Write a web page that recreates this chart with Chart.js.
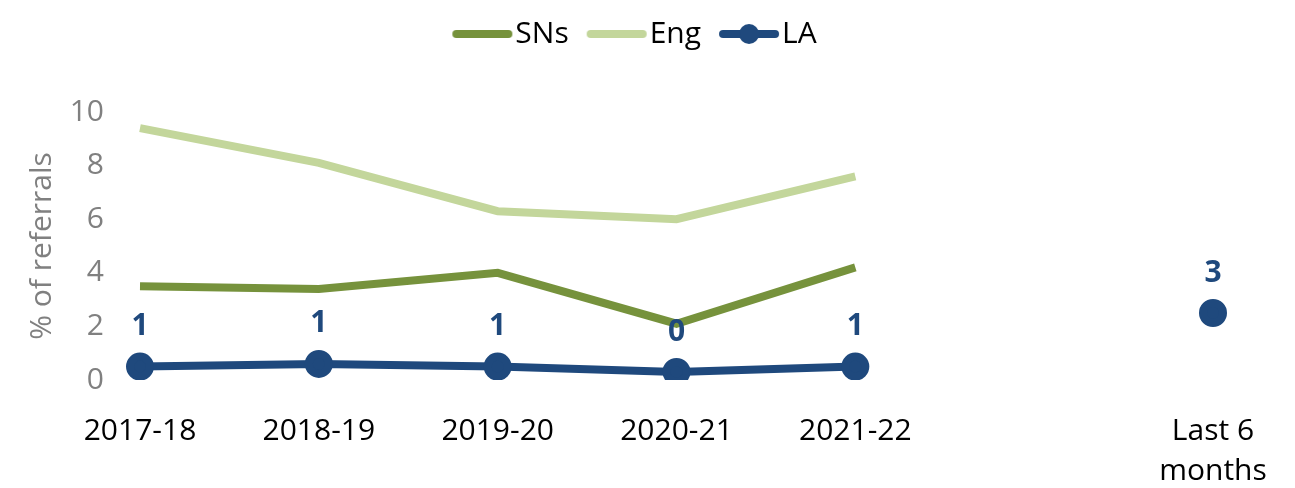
<!DOCTYPE html>
<html>
<head>
<meta charset="utf-8">
<script src="https://cdn.jsdelivr.net/npm/chart.js@4"></script>
<style>
  html, body { margin: 0; padding: 0; background: #fff; }
  #wrap { width: 1295px; height: 488px; }
</style>
</head>
<body>
<div id="wrap"><canvas id="referralChart"></canvas></div>
<script>
// Categories (one blank slot before the last 6 months)
const labels = ['2017-18', '2018-19', '2019-20', '2020-21', '2021-22', '', ['Last 6', 'months']];
const snsValues = [3.5, 3.4, 4.0, 2.1, 4.2, null, null];
const engValues = [9.4, 8.1, 6.3, 6.0, 7.6, null, null];
const laValues = [0.5, 0.6, 0.5, 0.3, 0.5, null, 2.5];
const laLabels = ['1', '1', '1', '0', '1', '', '3'];
const yTicks = [0, 2, 4, 6, 8, 10];

const fontFamily = '"Open Sans", "Noto Sans", sans-serif';

// legend marker: thick line (optional dot), sitting close to its text
function legendIcon(color, withDot) {
  const c = document.createElement('canvas');
  c.width = 84; c.height = 24;
  const g = c.getContext('2d');
  g.strokeStyle = color;
  g.lineWidth = 8;
  g.lineCap = 'round';
  g.beginPath();
  g.moveTo(26, 12); g.lineTo(78, 12);
  g.stroke();
  if (withDot) {
    g.fillStyle = color;
    g.beginPath();
    g.arc(52, 12, 10, 0, Math.PI * 2);
    g.fill();
  }
  return c;
}

const valueLabels = {
  id: 'valueLabels',
  afterDatasetsDraw(chart) {
    const meta = chart.getDatasetMeta(2);
    const ctx = chart.ctx;
    ctx.save();
    ctx.font = 'bold 30px ' + fontFamily;
    ctx.fillStyle = '#1F497D';
    ctx.textAlign = 'center';
    ctx.textBaseline = 'middle';
    meta.data.forEach((pt, i) => {
      if (laValues[i] === null) return;
      ctx.fillText(laLabels[i], pt.x, pt.y - 40);
    });
    ctx.restore();
  }
};

// leave room under the legend and nudge it right
const legendGap = {
  id: 'legendGap',
  beforeLayout(chart) {
    const lg = chart.legend;
    if (lg && !lg._gapPatched) {
      const fit = lg.fit;
      lg.fit = function () { fit.call(this); this.height += 55; };
      lg._gapPatched = true;
    }
  },
  afterLayout(chart) {
    const lg = chart.legend;
    if (lg) { lg.left += 24; lg.right += 24; lg.top += 2; lg.bottom += 2; }
  }
};

const ctx = document.getElementById('referralChart').getContext('2d');
const chart = new Chart(ctx, {
    type: 'line',
    data: {
        labels: labels,
        datasets: [{
            label: 'SNs',
            data: snsValues,
            borderColor: '#76923C',
            backgroundColor: '#76923C',
            borderWidth: 8,
            pointRadius: 0,
            pointHoverRadius: 0,
            tension: 0
        }, {
            label: 'Eng',
            data: engValues,
            borderColor: '#C3D69B',
            backgroundColor: '#C3D69B',
            borderWidth: 8,
            pointRadius: 0,
            pointHoverRadius: 0,
            tension: 0
        }, {
            label: 'LA',
            data: laValues,
            borderColor: '#1F497D',
            backgroundColor: '#1F497D',
            borderWidth: 8,
            pointRadius: 10,
            pointHoverRadius: 10,
            tension: 0
        }]
    },
    options: {
        responsive: true,
        maintainAspectRatio: false,
        animation: false,
        layout: { padding: { left: 0, right: 82, top: 7, bottom: 0 } },
        plugins: {
            legend: {
                position: 'top',
                labels: {
                    usePointStyle: true,
                    pointStyleWidth: 56,
                    color: '#000',
                    font: { family: fontFamily, size: 30 },
                    padding: 10,
                    generateLabels(chart) {
                        return chart.data.datasets.map((ds, i) => ({
                            text: ds.label,
                            datasetIndex: i,
                            fontColor: '#000',
                            pointStyle: legendIcon(ds.borderColor, i === 2),
                            strokeStyle: ds.borderColor,
                            fillStyle: ds.borderColor,
                            lineWidth: 0,
                            hidden: false
                        }));
                    }
                }
            },
            tooltip: { enabled: false }
        },
        scales: {
            x: {
                offset: false,
                grid: { display: false },
                border: { display: false },
                afterFit(axis) {
                    axis.height = 108;
                },
                ticks: {
                    color: '#000',
                    font: { family: fontFamily, size: 30, lineHeight: 1.33 },
                    maxRotation: 0,
                    autoSkip: false,
                    padding: 24
                }
            },
            y: {
                min: 0,
                max: 10,
                grid: { display: false },
                border: { display: false },
                afterBuildTicks(axis) {
                    axis.ticks = yTicks.map(v => ({ value: v }));
                },
                afterFit(axis) {
                    axis.width = 140;
                },
                ticks: {
                    color: '#808080',
                    font: { family: fontFamily, size: 30 },
                    padding: 28
                },
                title: {
                    display: true,
                    text: '% of referrals',
                    color: '#808080',
                    font: { family: fontFamily, size: 30 },
                    padding: { top: 24, bottom: 4 }
                }
            }
        }
    },
    plugins: [valueLabels, legendGap]
});
</script>
</body>
</html>
